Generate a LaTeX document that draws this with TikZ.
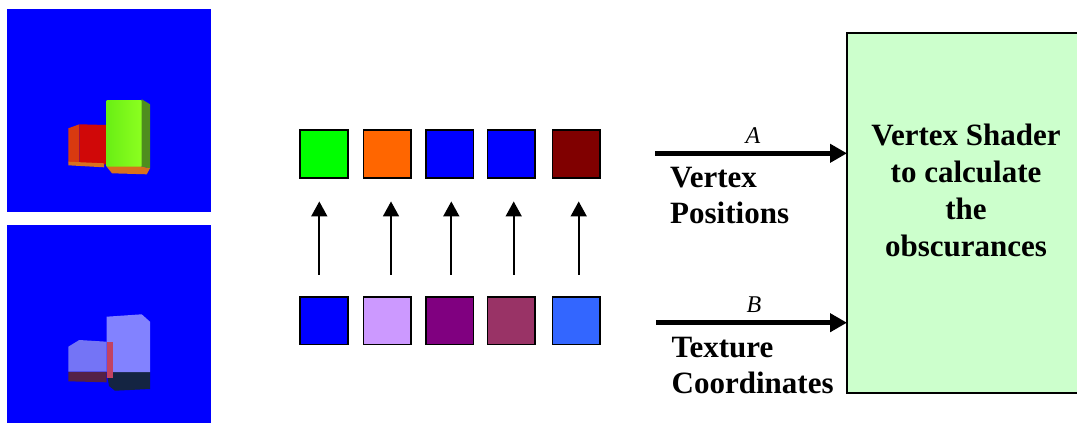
\documentclass[tikz,border=0pt]{standalone}
\usepackage{fontspec}
\setmainfont{Liberation Serif}
\usetikzlibrary{arrows.meta,calc}

% palette of the rendered views
\definecolor{renderblue}{HTML}{0000FF}
\definecolor{boxgreen}{HTML}{6AEE14}
\definecolor{boxgreenhi}{HTML}{8CFF20}
\definecolor{boxgreenside}{HTML}{4E8E1E}
\definecolor{boxred}{HTML}{D00808}
\definecolor{boxredside}{HTML}{D83A10}
\definecolor{boxorange}{HTML}{D8701E}
\definecolor{lavfront}{HTML}{8282FF}
\definecolor{lavshort}{HTML}{7474F6}
\definecolor{darkbase}{HTML}{142442}
\definecolor{darkred}{HTML}{542046}
\definecolor{redsliver}{HTML}{C24262}
% palette of the texel cells
\definecolor{cgreen}{HTML}{00FF00}
\definecolor{corange}{HTML}{FF6600}
\definecolor{cblue}{HTML}{0000FF}
\definecolor{cmaroon}{HTML}{800000}
\definecolor{clilac}{HTML}{CC99FF}
\definecolor{cpurple}{HTML}{800080}
\definecolor{cplum}{HTML}{993366}
\definecolor{csky}{HTML}{3366FF}
\definecolor{shadergreen}{HTML}{CCFFCC}

\begin{document}
\begin{tikzpicture}[x=1pt,y=-1pt,
  cell/.style={draw=black, line width=1.7pt, minimum size=47.7pt,
               inner sep=0pt, outer sep=0pt},
  lift/.style={line width=1.7pt, -{Triangle[length=15pt,width=16pt]}},
  feed/.style={line width=5.5pt, -{Triangle[length=17pt,width=18pt]}},
  streamlabel/.style={font=\fontsize{31}{36}\selectfont\bfseries,
               align=left, inner sep=0pt, anchor=north west},
  letter/.style={font=\fontsize{24}{28}\selectfont\itshape,
               inner sep=0pt, anchor=base},
  shaderbox/.style={draw=black, line width=2pt, fill=shadergreen,
               minimum width=239pt, minimum height=360pt,
               inner sep=0pt, outer sep=0pt}]
\useasboundingbox (0,0) rectangle (1077,424);
\clip (0,0) rectangle (1077,424);

% ---- upper render: positions ----
\fill[renderblue] (7,9) rectangle (211,212);
\fill[boxredside] (68.3,128.3) -- (79.3,124.3) -- (79.3,163.5) -- (68.3,162.3) -- cycle;
\fill[boxred] (79.3,124.3) -- (107,125) -- (107,164.5) -- (79.3,163.5) -- cycle;
\fill[boxorange] (68.3,161.7) -- (104,163.3) -- (104,167.3) -- (68.3,165.3) -- cycle;
\shade[left color=boxgreen, right color=boxgreenhi]
  (106.7,100) rectangle (141.7,166.7);
\fill[boxgreenside] (141.7,99.3) -- (150,104.3) -- (150,168.3) -- (141.7,166.7) -- cycle;
\fill[boxorange] (106.7,166.7) -- (141.7,166.7) -- (150,168.3) -- (146.7,174.3)
  -- (112,173.3) -- cycle;

% ---- lower render: texture coordinates ----
\fill[renderblue] (7,225) rectangle (211,423);
\fill[darkbase] (106.7,371.7) -- (150,371.7) -- (150,389) -- (115,390.7)
  -- (109,386) -- cycle;
\fill[lavfront] (106.7,316.7) -- (141.7,314.3) -- (150,321.7) -- (150,372)
  -- (106.7,372) -- cycle;
\fill[darkred] (68.3,371.7) -- (106.7,371.7) -- (106.7,382.3) -- (68.3,381.3) -- cycle;
\fill[lavshort] (68.3,346.7) -- (79.3,340) -- (106.7,341.7) -- (106.7,371.7)
  -- (68.3,371.7) -- cycle;
\fill[redsliver] (106.7,341.7) rectangle (113,378.3);

% ---- texel cells ----
\node[cell, fill=cgreen]  (t1) at (324,154) {};
\node[cell, fill=corange] (t2) at (387.2,154) {};
\node[cell, fill=cblue]   (t3) at (449.5,154) {};
\node[cell, fill=cblue]   (t4) at (511.3,154) {};
\node[cell, fill=cmaroon] (t5) at (576.3,154) {};

\node[cell, fill=cblue]   (b1) at (324,320.6) {};
\node[cell, fill=clilac]  (b2) at (387.2,320.6) {};
\node[cell, fill=cpurple] (b3) at (449.5,320.6) {};
\node[cell, fill=cplum]   (b4) at (511.3,320.6) {};
\node[cell, fill=csky]    (b5) at (576.3,320.6) {};

\foreach \i/\dx in {1/-4.7, 2/3.8, 3/1.8, 4/2.4, 5/2.4}
  \draw[lift] ($(b\i.north)+(\dx,-22)$) -- ($(t\i.south)+(\dx,23.6)$);

% ---- shader stage ----
\node[shaderbox] (shader) at (966.5,213) {};
\node[font=\fontsize{31}{37}\selectfont\bfseries, align=center,
      inner sep=0pt, anchor=north] (shadertext) at (966,123.3)
  {Vertex Shader\\to calculate\\the\\obscurances};

% ---- input streams ----
\coordinate (ain) at (655,153.3);
\coordinate (bin) at (656,322.7);
\draw[feed] (ain) -- (ain -| shader.west);
\draw[feed] (bin) -- (bin -| shader.west);

\node[letter] (alabel) at (753,143.3) {A};
\node[letter] (blabel) at (754,312.3) {B};

\node[streamlabel] (poslabel) at (670,166.6) {Vertex\\Positions};
\node[streamlabel] (texlabel) at (671.5,336.8) {Texture\\Coordinates};
\end{tikzpicture}
\end{document}
